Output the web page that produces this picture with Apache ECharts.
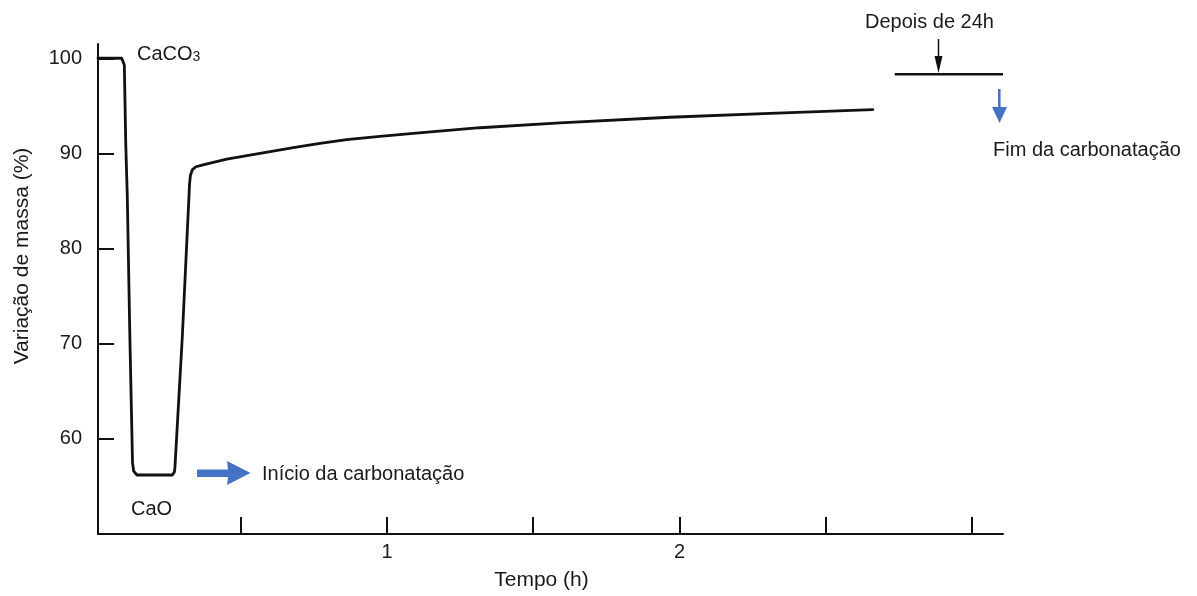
<!DOCTYPE html>
<html>
<head>
<meta charset="utf-8">
<script src="https://cdn.jsdelivr.net/npm/echarts@6/dist/echarts.min.js"></script>
<style>
html,body{margin:0;padding:0;background:#fff;}
#chart{width:1197px;height:596px;}
</style>
</head>
<body>
<div id="chart"></div>
<script>
// ---- data ----
const timeH = [0.012, 0.093, 0.0995, 0.102, 0.107, 0.112, 0.121, 0.130, 0.134, 0.145,
  0.266, 0.273, 0.275, 0.300, 0.325, 0.328, 0.335, 0.347, 0.371, 0.452, 0.566, 0.680,
  0.771, 0.862, 0.976, 1.090, 1.318, 1.591, 1.967, 2.309, 2.661];
const massPct = [100.0, 100.0, 99.8, 99.3, 90.9, 85.7, 70.6, 57.5, 56.6, 56.2,
  56.2, 56.5, 57.0, 70.6, 86.8, 87.7, 88.3, 88.6, 88.8, 89.4, 90.0, 90.6,
  91.05, 91.45, 91.8, 92.1, 92.7, 93.2, 93.8, 94.2, 94.6];
const after24hTime = [2.736, 3.106];
const after24hMass = [98.33, 98.33];
const xTickValues = [0.5, 1, 1.5, 2, 2.5, 3];
const xLabelValues = [1, 2];
const yTickValues = [60, 70, 80, 90, 100];

const FONT = '"Liberation Sans", Arial, sans-serif';
const TXT = '#1a1a1a';
const BLUE = '#4472C4';

const chart = echarts.init(document.getElementById('chart'), null, {renderer: 'canvas'});

const option = {
  animation: false,
  backgroundColor: '#fff',
  textStyle: {fontFamily: FONT},
  grid: {left: 98, top: 44, right: 194, bottom: 59},
  xAxis: {
    type: 'value', min: 0.012, max: 3.106,
    name: 'Tempo (h)', nameLocation: 'middle', nameGap: 36,
    nameTextStyle: {fontSize: 21, color: TXT, fontFamily: FONT, padding: [0, 18, 0, 0]},
    axisLine: {show: true, lineStyle: {color: '#111', width: 2}},
    axisTick: {show: true, inside: true, length: 17, lineStyle: {color: '#111', width: 2}, customValues: xTickValues},
    axisLabel: {show: true, margin: 8, fontSize: 20, color: TXT, fontFamily: FONT, customValues: xLabelValues},
    splitLine: {show: false}
  },
  yAxis: {
    type: 'value', min: 50, max: 101.5,
    name: 'Variação de massa (%)', nameLocation: 'middle', nameGap: 65, nameRotate: 90,
    nameTextStyle: {fontSize: 21, color: TXT, fontFamily: FONT, padding: [0, 0, 0, 66]},
    axisLine: {show: true, lineStyle: {color: '#111', width: 2}},
    axisTick: {show: true, inside: true, length: 16, lineStyle: {color: '#111', width: 2}, customValues: yTickValues},
    axisLabel: {show: true, margin: 16, fontSize: 20, color: TXT, fontFamily: FONT, customValues: yTickValues},
    splitLine: {show: false}
  },
  series: [
    {
      type: 'line', name: 'massa',
      data: timeH.map((t, i) => [t, massPct[i]]),
      showSymbol: false, symbol: 'none',
      lineStyle: {color: '#111', width: 2.8, join: 'round', cap: 'round'},
      silent: true
    },
    {
      type: 'line', name: 'depois de 24h',
      data: after24hTime.map((t, i) => [t, after24hMass[i]]),
      showSymbol: false, symbol: 'none',
      lineStyle: {color: '#111', width: 2.5},
      silent: true
    }
  ],
  graphic: [
    // CaCO3
    {type: 'text', left: 137, top: 44, style: {
      text: '{a|CaCO}{b|3}', fill: TXT,
      rich: {a: {fontSize: 20, fontFamily: FONT, fill: TXT, verticalAlign: 'bottom', lineHeight: 22},
             b: {fontSize: 14, fontFamily: FONT, fill: TXT, verticalAlign: 'bottom', lineHeight: 22}}
    }},
    // CaO
    {type: 'text', left: 131, top: 499, style: {text: 'CaO', fontSize: 20, fontFamily: FONT, fill: TXT}},
    // Início da carbonatação
    {type: 'text', left: 262, top: 464, style: {text: 'Início da carbonatação', fontSize: 20, fontFamily: FONT, fill: TXT}},
    // blue right arrow
    {type: 'polygon', shape: {points: [[197, 469.5], [228, 469.5], [227, 461], [250.5, 473], [227, 485], [228, 477], [197, 477]]},
      style: {fill: BLUE}},
    // Depois de 24h
    {type: 'text', left: 865, top: 12, style: {text: 'Depois de 24h', fontSize: 20, fontFamily: FONT, fill: TXT}},
    // black down arrow
    {type: 'line', shape: {x1: 938.5, y1: 39, x2: 938.5, y2: 62}, style: {stroke: '#111', lineWidth: 1.5}},
    {type: 'polygon', shape: {points: [[934.5, 56], [942.5, 56], [938.5, 73]]}, style: {fill: '#111'}},
    // blue down arrow
    {type: 'line', shape: {x1: 999.3, y1: 89, x2: 999.3, y2: 109}, style: {stroke: BLUE, lineWidth: 2.5}},
    {type: 'polygon', shape: {points: [[992, 107], [1007, 107], [999.5, 123]]}, style: {fill: BLUE}},
    // Fim da carbonatação
    {type: 'text', left: 993, top: 140, style: {text: 'Fim da carbonatação', fontSize: 20, fontFamily: FONT, fill: TXT}}
  ]
};
chart.setOption(option);
</script>
</body>
</html>
